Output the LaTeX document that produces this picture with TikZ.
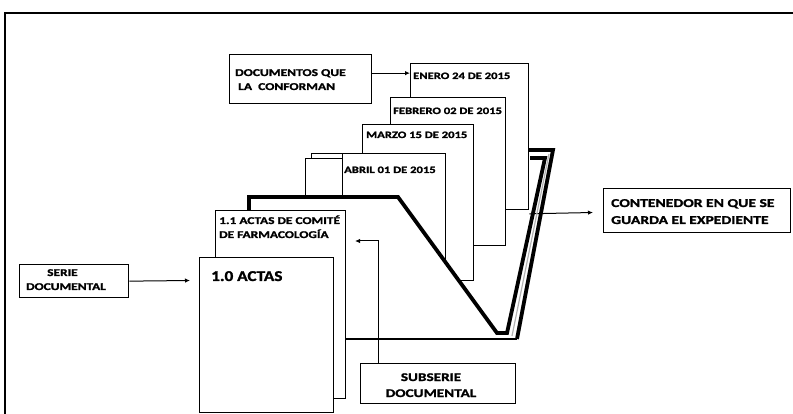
\documentclass[tikz,border=0pt]{standalone}
\usepackage{fontspec}
\setmainfont{Carlito}[FakeStretch=1.15, BoldFeatures={FakeBold=1.5}]
\newfontfamily\widefont{Carlito}[FakeStretch=1.3, BoldFeatures={FakeBold=1.5}]
\usetikzlibrary{arrows.meta}
\begin{document}
\begin{tikzpicture}[x=1pt,y=-1pt,
  pagebox/.style={draw, fill=white, line width=1.3pt, inner sep=0pt, anchor=north west},
  lbl/.style={inner sep=0pt, anchor=base west, text=black},
  thick line/.style={line width=3.8pt, line join=miter},
  arr/.style={line width=1pt, -{Latex[length=5pt,width=4.5pt]}},
  f/.style={font=\widefont\fontsize{#1}{#1}\selectfont\bfseries},
  fn/.style={font=\fontsize{#1}{#1}\selectfont\bfseries}]
\useasboundingbox (0,0) rectangle (793,414);
% outer frame
\draw[line width=1.5pt] (5,414) -- (5,13) -- (793,13);

% documents stack
\node[pagebox, minimum width=118pt, minimum height=146pt] (enero) at (410,63) {};
\node[pagebox, minimum width=115pt, minimum height=148pt] (febrero) at (390,97) {};
\node[pagebox, minimum width=111pt, minimum height=156pt] (marzo) at (362,124) {};
\node[pagebox, minimum width=100pt, minimum height=60pt] (back1) at (311,153) {};
\node[pagebox, minimum width=100pt, minimum height=55pt] (back2) at (305,158) {};
\node[pagebox, minimum width=103pt, minimum height=120pt] (abril) at (342,153) {};

\node[lbl, f=9.7] (tenero) at (413,79) {ENERO 24 DE 2015};
\node[lbl, f=9.7] (tfeb) at (393,114) {FEBRERO 02 DE 2015};
\node[lbl, f=9.7] (tmarzo) at (366,138) {MARZO 15 DE 2015};
\node[lbl, f=9.7] (tabril) at (344,173) {ABRIL 01 DE 2015};

% arrow to container (behind the folder edges)
\coordinate (contEnd) at (593,212.5);
\draw[arr] ([yshift=-3.5pt]enero.south east) -- (contEnd);

% folder front flap
\fill[white] (247,210) -- (247,197) -- (398,197) -- (497,333) -- (517,339) -- (345,339) -- (345,210) -- cycle;
\draw[thick line] (249,210) -- (249,197) -- (398,197) -- (497,333) -- (507,333) -- (545,158) -- (530,158);
\draw[line width=1.8pt] (345,339) -- (517,339);
\draw[thick line] (528,150) -- (553,150) -- (517,339);
\draw[line width=1.2pt, gray!60] (549,154) -- (512,336);

% series boxes
\node[pagebox, minimum width=130pt, minimum height=188pt] (actas11) at (215,210) {};
\node[lbl, f=10.3] (t11a) at (219,224) {1.1 ACTAS DE COMITÉ};
\node[lbl, f=10.3] (t11b) at (219,238) {DE FARMACOLOGÍA};
\node[pagebox, minimum width=134pt, minimum height=155pt] (actas10) at (199,257) {};
\node[lbl, fn=15] (t10) at (211,281) {1.0 ACTAS};

% label boxes
\node[pagebox, minimum width=142pt, minimum height=49pt] (docs) at (229,54) {};
\node[lbl, f=10.4] (tdocs1) at (235,76) {DOCUMENTOS QUE};
\node[lbl, f=10.4] (tdocs2) at (238,90) {LA\ \ CONFORMAN};

\node[pagebox, minimum width=109pt, minimum height=33pt] (serie) at (19,264) {};
\node[lbl, f=10.3] (tserie1) at (47,276) {SERIE};
\node[lbl, f=10.3] (tserie2) at (26,290) {DOCUMENTAL};

\node[pagebox, minimum width=155pt, minimum height=40pt] (subserie) at (360,363) {};
\node[lbl, f=11.7, anchor=base] (tsub1) at (431,381) {SUBSERIE};
\node[lbl, f=11.7, anchor=base] (tsub2) at (431,397) {DOCUMENTAL};

\node[pagebox, minimum width=187pt, minimum height=44pt] (cont) at (603,188) {};
\node[lbl, f=12] (tcont1) at (611,207) {CONTENEDOR EN QUE SE};
\node[lbl, f=12] (tcont2) at (611,224) {GUARDA EL EXPEDIENTE};

% arrows
\draw[arr] ([yshift=6pt]docs.east) -- ([yshift=6pt]docs.east -| enero.west);
\coordinate (serieEnd) at (190,280.5);
\draw[arr] (serie.east) -- (serieEnd);
\coordinate (subTurn) at (378,241);
\coordinate (subEnd) at (355,241);
\draw[arr] (subserie.north -| subTurn) -- (subTurn) -- (subEnd);
\end{tikzpicture}
\end{document}
